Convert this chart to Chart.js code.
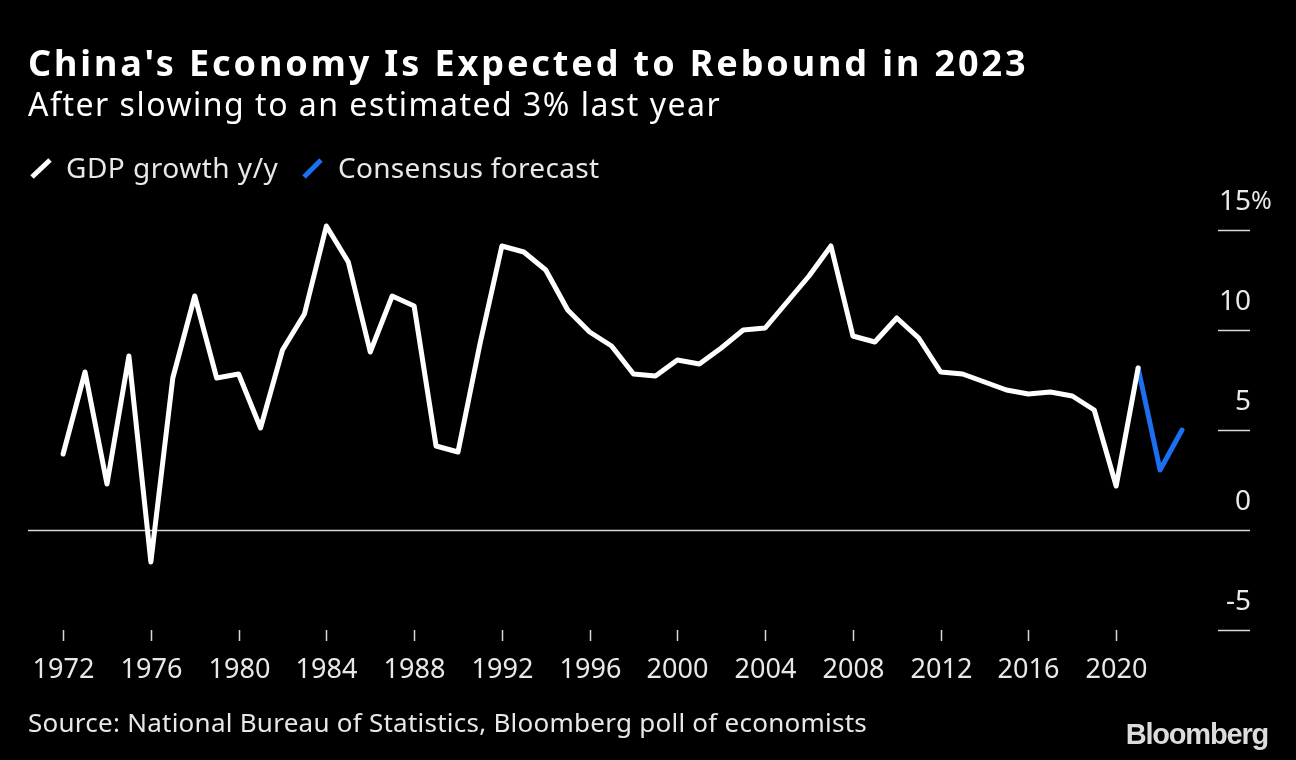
<!DOCTYPE html>
<html><head><meta charset="utf-8">
<script src="https://cdn.jsdelivr.net/npm/chart.js@4"></script>
<style>html,body{margin:0;padding:0;background:#000;}canvas{display:block}</style>
</head><body>
<canvas id="c" width="1296" height="760"></canvas>
<script>
const years = [1972,1973,1974,1975,1976,1977,1978,1979,1980,1981,1982,1983,1984,1985,1986,1987,1988,1989,1990,1991,1992,1993,1994,1995,1996,1997,1998,1999,2000,2001,2002,2003,2004,2005,2006,2007,2008,2009,2010,2011,2012,2013,2014,2015,2016,2017,2018,2019,2020,2021];
const gdpGrowth = [3.8,7.9,2.3,8.7,-1.6,7.6,11.7,7.6,7.8,5.1,9.0,10.8,15.2,13.4,8.9,11.7,11.2,4.2,3.9,9.3,14.2,13.9,13.0,11.0,9.9,9.2,7.8,7.7,8.5,8.3,9.1,10.0,10.1,11.4,12.7,14.2,9.7,9.4,10.6,9.6,7.9,7.8,7.4,7.0,6.8,6.9,6.7,6.0,2.2,8.1];
const forecastYears = [2021,2022,2023];
const forecastGrowth = [8.1,3.0,5.0];
const xTickYears = [1972,1976,1980,1984,1988,1992,1996,2000,2004,2008,2012,2016,2020];
const yTickValues = [15,10,5,0,-5];
const yTickLabels = ['15','10','5','0','-5'];

const FONT = '"Noto Sans", "Open Sans", sans-serif';
const WHITE = '#ffffff';
const BLUE = '#1b6ff0';
const TXT = '#e8e8e8';

function spacedText(ctx, text, x, y, spacing) {
  if ('letterSpacing' in ctx) {
    ctx.letterSpacing = spacing + 'px';
    ctx.fillText(text, x, y);
    ctx.letterSpacing = '0px';
  } else {
    ctx.fillText(text, x, y);
  }
}

const decor = {
  id: 'decor',
  beforeDraw(chart) {
    const ctx = chart.ctx;
    ctx.save();
    ctx.fillStyle = '#000';
    ctx.fillRect(0, 0, chart.width, chart.height);
    ctx.restore();
  },
  beforeDatasetsDraw(chart) {
    const ctx = chart.ctx, ys = chart.scales.y, a = chart.chartArea;
    const y0 = Math.round(ys.getPixelForValue(0)) + 0.5;
    ctx.save();
    ctx.strokeStyle = '#d8d8d8';
    ctx.lineWidth = 1.5;
    ctx.beginPath(); ctx.moveTo(a.left, y0); ctx.lineTo(a.right, y0); ctx.stroke();
    ctx.restore();
  },
  afterDraw(chart) {
    const ctx = chart.ctx, xs = chart.scales.x, ys = chart.scales.y, a = chart.chartArea;
    ctx.save();
    // y ticks
    ctx.strokeStyle = '#d8d8d8';
    ctx.lineWidth = 1.5;
    ctx.fillStyle = TXT;
    ctx.font = '28px ' + FONT;
    ctx.textBaseline = 'middle';
    yTickValues.forEach((v, i) => {
      const py = Math.round(ys.getPixelForValue(v)) + 0.5;
      if (v !== 0) {
        ctx.beginPath(); ctx.moveTo(a.right - 32, py); ctx.lineTo(a.right, py); ctx.stroke();
      }
      ctx.textAlign = 'right';
      ctx.fillText(yTickLabels[i], a.right + 1, py - 28);
      if (i === 0) { ctx.textAlign = 'left'; ctx.font = '25px ' + FONT; ctx.fillText('%', a.right + 1, py - 29); ctx.font = '28px ' + FONT; }
    });
    // x ticks
    ctx.textAlign = 'center';
    ctx.font = '27px ' + FONT;
    xTickYears.forEach(yr => {
      const px = Math.round(xs.getPixelForValue(yr)) + 0.5;
      ctx.beginPath(); ctx.moveTo(px, a.bottom); ctx.lineTo(px, a.bottom + 11); ctx.stroke();
      ctx.fillText(String(yr), px, a.bottom + 40);
    });
    // Title & subtitle
    ctx.textAlign = 'left';
    ctx.textBaseline = 'alphabetic';
    ctx.fillStyle = WHITE;
    ctx.font = 'bold 36px ' + FONT;
    spacedText(ctx, "China's Economy Is Expected to Rebound in 2023", 28, 76, 2.9);
    ctx.font = '32px ' + FONT;
    spacedText(ctx, 'After slowing to an estimated 3% last year', 28, 116, 1.5);
    // legend
    ctx.lineWidth = 5;
    ctx.lineCap = 'butt';
    ctx.strokeStyle = WHITE;
    ctx.beginPath(); ctx.moveTo(32, 177); ctx.lineTo(50, 160); ctx.stroke();
    ctx.strokeStyle = BLUE;
    ctx.beginPath(); ctx.moveTo(304, 177); ctx.lineTo(321, 160); ctx.stroke();
    ctx.fillStyle = TXT;
    ctx.font = '28px ' + FONT;
    spacedText(ctx, 'GDP growth y/y', 66, 178, 0.5);
    spacedText(ctx, 'Consensus forecast', 338, 178, 0.3);
    // source
    ctx.font = '26px ' + FONT;
    spacedText(ctx, 'Source: National Bureau of Statistics, Bloomberg poll of economists', 28, 732, 0.25);
    // logo
    ctx.fillStyle = '#dcdcdc';
    ctx.font = 'bold 29px "Liberation Sans", Arial, sans-serif';
    ctx.textAlign = 'right';
    spacedText(ctx, 'Bloomberg', 1268, 744, -1.2);
    ctx.restore();
  }
};

const gdpPoints = years.map((yr, i) => ({x: yr, y: gdpGrowth[i]}));
const fcPoints = forecastYears.map((yr, i) => ({x: yr, y: forecastGrowth[i]}));

new Chart(document.getElementById('c'), {
  type: 'line',
  data: {
    datasets: [
      {label: 'GDP growth y/y', data: gdpPoints, borderColor: WHITE, borderWidth: 5, pointRadius: 0, tension: 0, borderJoinStyle: 'round', borderCapStyle: 'round'},
      {label: 'Consensus forecast', data: fcPoints, borderColor: BLUE, borderWidth: 5, pointRadius: 0, tension: 0, borderJoinStyle: 'round', borderCapStyle: 'round'}
    ]
  },
  options: {
    responsive: false,
    animation: false,
    devicePixelRatio: 1,
    layout: {padding: {left: 28, right: 46, top: 210, bottom: 130}},
    plugins: {legend: {display: false}, tooltip: {enabled: false}},
    elements: {line: {clip: false}},
    scales: {
      x: {type: 'linear', display: false, min: 1970.4, max: 2026.1},
      y: {type: 'linear', display: false, min: -5, max: 16}
    }
  },
  plugins: [decor]
});
</script>
</body></html>
